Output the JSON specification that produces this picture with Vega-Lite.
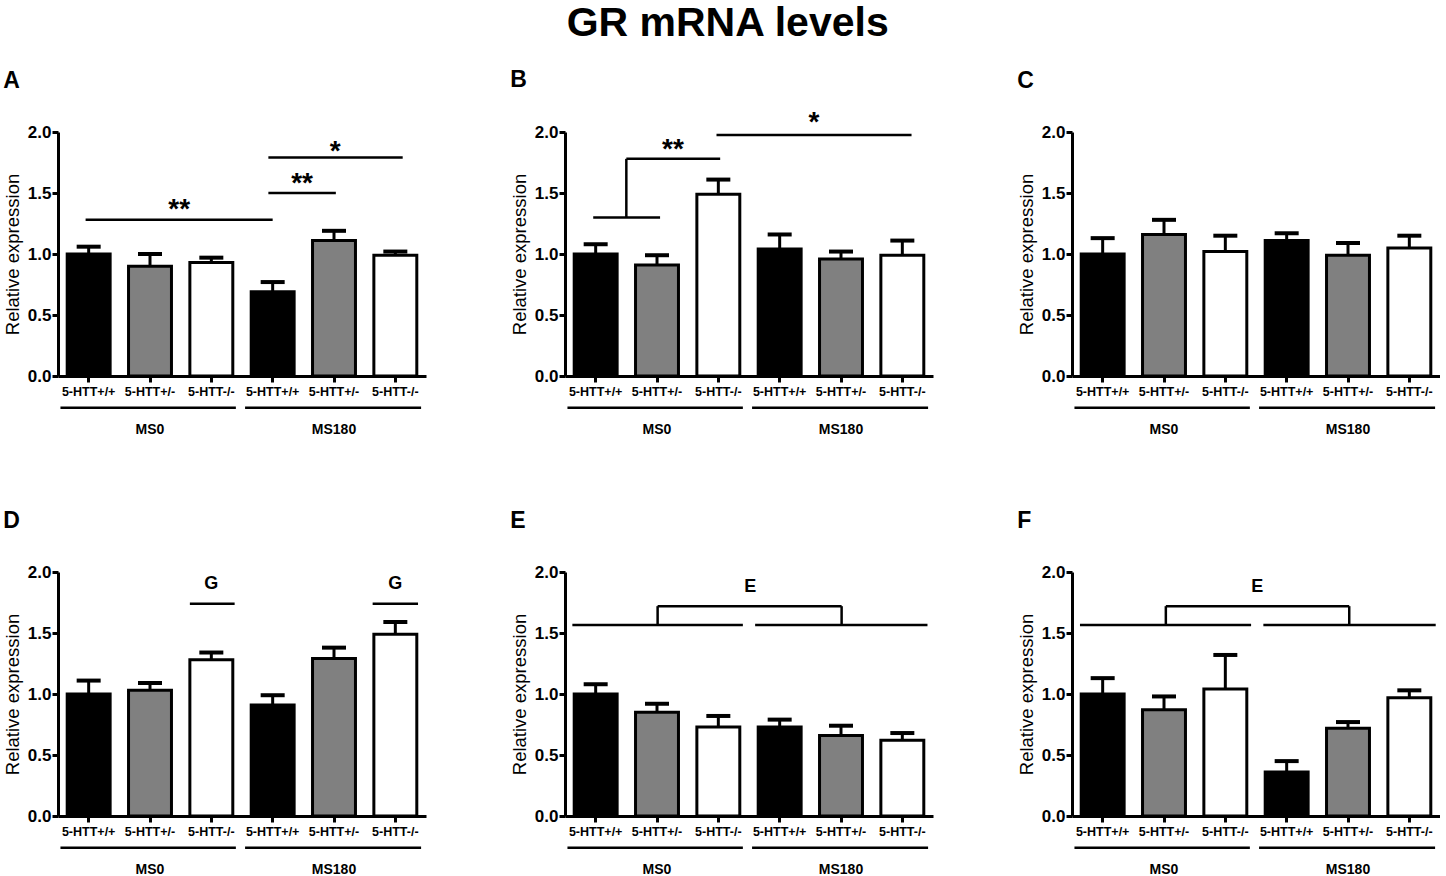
{
  "$schema": "https://vega.github.io/schema/vega-lite/v6.json",
  "background": "white",
  "padding": {"left": 3, "top": 2, "right": 0, "bottom": 0},
  "title": {"text": "GR mRNA levels", "font": "Liberation Sans", "fontSize": 41, "fontWeight": "bold", "color": "black", "anchor": "middle", "offset": 24, "dx": 6},
  "config": {"view": {"stroke": null}},
  "datasets": {
    "bars": [
      {"panel": "A", "key": "MS0|5-HTT+/+", "genotype": "5-HTT+/+", "mean": 1.00, "upper": 1.06},
      {"panel": "A", "key": "MS0|5-HTT+/-", "genotype": "5-HTT+/-", "mean": 0.90, "upper": 1.00},
      {"panel": "A", "key": "MS0|5-HTT-/-", "genotype": "5-HTT-/-", "mean": 0.93, "upper": 0.97},
      {"panel": "A", "key": "MS180|5-HTT+/+", "genotype": "5-HTT+/+", "mean": 0.69, "upper": 0.77},
      {"panel": "A", "key": "MS180|5-HTT+/-", "genotype": "5-HTT+/-", "mean": 1.11, "upper": 1.19},
      {"panel": "A", "key": "MS180|5-HTT-/-", "genotype": "5-HTT-/-", "mean": 0.99, "upper": 1.02},
      {"panel": "B", "key": "MS0|5-HTT+/+", "genotype": "5-HTT+/+", "mean": 1.00, "upper": 1.08},
      {"panel": "B", "key": "MS0|5-HTT+/-", "genotype": "5-HTT+/-", "mean": 0.91, "upper": 0.99},
      {"panel": "B", "key": "MS0|5-HTT-/-", "genotype": "5-HTT-/-", "mean": 1.49, "upper": 1.61},
      {"panel": "B", "key": "MS180|5-HTT+/+", "genotype": "5-HTT+/+", "mean": 1.04, "upper": 1.16},
      {"panel": "B", "key": "MS180|5-HTT+/-", "genotype": "5-HTT+/-", "mean": 0.96, "upper": 1.02},
      {"panel": "B", "key": "MS180|5-HTT-/-", "genotype": "5-HTT-/-", "mean": 0.99, "upper": 1.11},
      {"panel": "C", "key": "MS0|5-HTT+/+", "genotype": "5-HTT+/+", "mean": 1.00, "upper": 1.13},
      {"panel": "C", "key": "MS0|5-HTT+/-", "genotype": "5-HTT+/-", "mean": 1.16, "upper": 1.28},
      {"panel": "C", "key": "MS0|5-HTT-/-", "genotype": "5-HTT-/-", "mean": 1.02, "upper": 1.15},
      {"panel": "C", "key": "MS180|5-HTT+/+", "genotype": "5-HTT+/+", "mean": 1.11, "upper": 1.17},
      {"panel": "C", "key": "MS180|5-HTT+/-", "genotype": "5-HTT+/-", "mean": 0.99, "upper": 1.09},
      {"panel": "C", "key": "MS180|5-HTT-/-", "genotype": "5-HTT-/-", "mean": 1.05, "upper": 1.15},
      {"panel": "D", "key": "MS0|5-HTT+/+", "genotype": "5-HTT+/+", "mean": 1.00, "upper": 1.11},
      {"panel": "D", "key": "MS0|5-HTT+/-", "genotype": "5-HTT+/-", "mean": 1.03, "upper": 1.09},
      {"panel": "D", "key": "MS0|5-HTT-/-", "genotype": "5-HTT-/-", "mean": 1.28, "upper": 1.34},
      {"panel": "D", "key": "MS180|5-HTT+/+", "genotype": "5-HTT+/+", "mean": 0.91, "upper": 0.99},
      {"panel": "D", "key": "MS180|5-HTT+/-", "genotype": "5-HTT+/-", "mean": 1.29, "upper": 1.38},
      {"panel": "D", "key": "MS180|5-HTT-/-", "genotype": "5-HTT-/-", "mean": 1.49, "upper": 1.59},
      {"panel": "E", "key": "MS0|5-HTT+/+", "genotype": "5-HTT+/+", "mean": 1.00, "upper": 1.08},
      {"panel": "E", "key": "MS0|5-HTT+/-", "genotype": "5-HTT+/-", "mean": 0.85, "upper": 0.92},
      {"panel": "E", "key": "MS0|5-HTT-/-", "genotype": "5-HTT-/-", "mean": 0.73, "upper": 0.82},
      {"panel": "E", "key": "MS180|5-HTT+/+", "genotype": "5-HTT+/+", "mean": 0.73, "upper": 0.79},
      {"panel": "E", "key": "MS180|5-HTT+/-", "genotype": "5-HTT+/-", "mean": 0.66, "upper": 0.74},
      {"panel": "E", "key": "MS180|5-HTT-/-", "genotype": "5-HTT-/-", "mean": 0.62, "upper": 0.68},
      {"panel": "F", "key": "MS0|5-HTT+/+", "genotype": "5-HTT+/+", "mean": 1.00, "upper": 1.13},
      {"panel": "F", "key": "MS0|5-HTT+/-", "genotype": "5-HTT+/-", "mean": 0.87, "upper": 0.98},
      {"panel": "F", "key": "MS0|5-HTT-/-", "genotype": "5-HTT-/-", "mean": 1.04, "upper": 1.32},
      {"panel": "F", "key": "MS180|5-HTT+/+", "genotype": "5-HTT+/+", "mean": 0.36, "upper": 0.45},
      {"panel": "F", "key": "MS180|5-HTT+/-", "genotype": "5-HTT+/-", "mean": 0.72, "upper": 0.77},
      {"panel": "F", "key": "MS180|5-HTT-/-", "genotype": "5-HTT-/-", "mean": 0.97, "upper": 1.03}
    ],
    "ann": [
      {"panel": "A", "x1": 0.45, "x2": 3.5, "y1": 1.28, "y2": 1.28},
      {"panel": "A", "x1": 3.43, "x2": 4.53, "y1": 1.50, "y2": 1.50},
      {"panel": "A", "x1": 3.43, "x2": 5.62, "y1": 1.79, "y2": 1.79},
      {"panel": "B", "x1": 0.46, "x2": 1.55, "y1": 1.30, "y2": 1.30},
      {"panel": "B", "x1": 1.0, "x2": 1.0, "y1": 1.30, "y2": 1.78},
      {"panel": "B", "x1": 1.0, "x2": 2.53, "y1": 1.78, "y2": 1.78},
      {"panel": "B", "x1": 2.47, "x2": 5.65, "y1": 1.975, "y2": 1.975},
      {"panel": "D", "x1": 2.15, "x2": 2.88, "y1": 1.74, "y2": 1.74},
      {"panel": "D", "x1": 5.13, "x2": 5.87, "y1": 1.74, "y2": 1.74},
      {"panel": "E", "x1": 0.12, "x2": 2.9, "y1": 1.566, "y2": 1.566},
      {"panel": "E", "x1": 3.1, "x2": 5.91, "y1": 1.566, "y2": 1.566},
      {"panel": "E", "x1": 1.51, "x2": 1.51, "y1": 1.566, "y2": 1.72},
      {"panel": "E", "x1": 1.51, "x2": 4.51, "y1": 1.72, "y2": 1.72},
      {"panel": "E", "x1": 4.51, "x2": 4.51, "y1": 1.72, "y2": 1.566},
      {"panel": "F", "x1": 0.13, "x2": 2.92, "y1": 1.566, "y2": 1.566},
      {"panel": "F", "x1": 3.12, "x2": 5.93, "y1": 1.566, "y2": 1.566},
      {"panel": "F", "x1": 1.53, "x2": 1.53, "y1": 1.566, "y2": 1.72},
      {"panel": "F", "x1": 1.53, "x2": 4.52, "y1": 1.72, "y2": 1.72},
      {"panel": "F", "x1": 4.52, "x2": 4.52, "y1": 1.72, "y2": 1.566}
    ],
    "txt": [
      {"panel": "A", "kind": "star", "x": 1.975, "y": 1.36, "label": "**"},
      {"panel": "A", "kind": "star", "x": 3.98, "y": 1.57, "label": "**"},
      {"panel": "A", "kind": "star", "x": 4.52, "y": 1.84, "label": "*"},
      {"panel": "B", "kind": "star", "x": 1.76, "y": 1.85, "label": "**"},
      {"panel": "B", "kind": "star", "x": 4.06, "y": 2.07, "label": "*"},
      {"panel": "D", "kind": "letter", "x": 2.5, "y": 1.90, "label": "G"},
      {"panel": "D", "kind": "letter", "x": 5.5, "y": 1.90, "label": "G"},
      {"panel": "E", "kind": "letter", "x": 3.02, "y": 1.88, "label": "E"},
      {"panel": "F", "kind": "letter", "x": 3.02, "y": 1.88, "label": "E"}
    ],
    "grp": [
      {"group": "MS0", "x1": 0.04, "x2": 2.9, "mid": 1.5},
      {"group": "MS180", "x1": 3.05, "x2": 5.92, "mid": 4.5}
    ]
  },
  "columns": 3,
  "spacing": {"row": 196, "column": 139},
  "bounds": "flush",
  "concat": [
    {
      "title": {"text": "A", "anchor": "start", "frame": "bounds", "font": "Liberation Sans", "fontSize": 23, "fontWeight": "bold", "color": "black", "offset": 30},
      "width": 368, "height": 244,
      "resolve": {"scale": {"x": "independent"}},
      "layer": [
        {"data": {"name": "bars"}, "transform": [{"filter": "datum.panel === 'A'"}],
         "encoding": {"x": {"field": "key", "type": "nominal", "sort": null, "scale": {"type": "band", "paddingInner": 0.3, "paddingOuter": 0.15},
           "axis": {"title": null, "labelExpr": "split(datum.label, '|')[1]", "labelAngle": 0, "labelFont": "Liberation Sans", "labelFontSize": 12.5, "labelFontWeight": "bold", "labelColor": "black", "labelPadding": 3, "tickSize": 6, "tickWidth": 3, "tickColor": "black", "domainColor": "black", "domainWidth": 3}}},
         "layer": [
           {"mark": {"type": "bar", "stroke": "black", "strokeWidth": 3, "opacity": 1},
            "encoding": {"y": {"field": "mean", "type": "quantitative", "scale": {"domain": [0, 2]},
              "axis": {"title": "Relative expression", "titleFont": "Liberation Sans", "titleFontSize": 18.5, "titleFontWeight": "normal", "titleColor": "black", "titlePadding": 5, "values": [0, 0.5, 1, 1.5, 2], "format": ".1f", "labelFont": "Liberation Sans", "labelFontSize": 17, "labelFontWeight": "bold", "labelColor": "black", "labelPadding": 1, "tickSize": 6, "tickWidth": 3, "tickColor": "black", "domainColor": "black", "domainWidth": 3, "grid": false}},
              "fill": {"field": "genotype", "type": "nominal", "scale": {"domain": ["5-HTT+/+", "5-HTT+/-", "5-HTT-/-"], "range": ["#000000", "#808080", "#ffffff"]}, "legend": null}}},
           {"mark": {"type": "rule", "color": "black", "strokeWidth": 3, "opacity": 1},
            "encoding": {"y": {"field": "mean", "type": "quantitative"}, "y2": {"field": "upper"}}},
           {"mark": {"type": "tick", "color": "black", "thickness": 4, "size": 24, "opacity": 1},
            "encoding": {"y": {"field": "upper", "type": "quantitative"}}}
         ]},
        {"layer": [
          {"data": {"name": "ann"}, "transform": [{"filter": "datum.panel === 'A'"}],
           "mark": {"type": "rule", "color": "black", "strokeWidth": 2.5},
           "encoding": {"x": {"field": "x1", "type": "quantitative", "scale": {"domain": [0, 6], "nice": false, "zero": false}, "axis": null}, "x2": {"field": "x2"}, "y": {"field": "y1", "type": "quantitative"}, "y2": {"field": "y2"}}},
          {"data": {"name": "txt"}, "transform": [{"filter": "datum.panel === 'A' && datum.kind === 'star'"}],
           "mark": {"type": "text", "font": "Liberation Sans", "fontSize": 28, "fontWeight": "bold", "color": "black", "baseline": "middle", "align": "center"},
           "encoding": {"x": {"field": "x", "type": "quantitative"}, "y": {"field": "y", "type": "quantitative"}, "text": {"field": "label"}}},
          {"data": {"name": "txt"}, "transform": [{"filter": "datum.panel === 'A' && datum.kind === 'letter'"}],
           "mark": {"type": "text", "font": "Liberation Sans", "fontSize": 18, "fontWeight": "bold", "color": "black", "baseline": "middle", "align": "center"},
           "encoding": {"x": {"field": "x", "type": "quantitative"}, "y": {"field": "y", "type": "quantitative"}, "text": {"field": "label"}}},
          {"data": {"name": "grp"},
           "mark": {"type": "rule", "color": "black", "strokeWidth": 2.5},
           "encoding": {"x": {"field": "x1", "type": "quantitative"}, "x2": {"field": "x2"}, "y": {"datum": -0.26, "type": "quantitative"}}},
          {"data": {"name": "grp"},
           "mark": {"type": "text", "font": "Liberation Sans", "fontSize": 14, "fontWeight": "bold", "color": "black", "baseline": "middle", "align": "center"},
           "encoding": {"x": {"field": "mid", "type": "quantitative"}, "y": {"datum": -0.44, "type": "quantitative"}, "text": {"field": "group"}}}
        ]}
      ]
    },
    {
      "title": {"text": "B", "anchor": "start", "frame": "bounds", "font": "Liberation Sans", "fontSize": 23, "fontWeight": "bold", "color": "black", "offset": 17.5},
      "width": 368, "height": 244,
      "resolve": {"scale": {"x": "independent"}},
      "layer": [
        {"data": {"name": "bars"}, "transform": [{"filter": "datum.panel === 'B'"}],
         "encoding": {"x": {"field": "key", "type": "nominal", "sort": null, "scale": {"type": "band", "paddingInner": 0.3, "paddingOuter": 0.15},
           "axis": {"title": null, "labelExpr": "split(datum.label, '|')[1]", "labelAngle": 0, "labelFont": "Liberation Sans", "labelFontSize": 12.5, "labelFontWeight": "bold", "labelColor": "black", "labelPadding": 3, "tickSize": 6, "tickWidth": 3, "tickColor": "black", "domainColor": "black", "domainWidth": 3}}},
         "layer": [
           {"mark": {"type": "bar", "stroke": "black", "strokeWidth": 3, "opacity": 1},
            "encoding": {"y": {"field": "mean", "type": "quantitative", "scale": {"domain": [0, 2]},
              "axis": {"title": "Relative expression", "titleFont": "Liberation Sans", "titleFontSize": 18.5, "titleFontWeight": "normal", "titleColor": "black", "titlePadding": 5, "values": [0, 0.5, 1, 1.5, 2], "format": ".1f", "labelFont": "Liberation Sans", "labelFontSize": 17, "labelFontWeight": "bold", "labelColor": "black", "labelPadding": 1, "tickSize": 6, "tickWidth": 3, "tickColor": "black", "domainColor": "black", "domainWidth": 3, "grid": false}},
              "fill": {"field": "genotype", "type": "nominal", "scale": {"domain": ["5-HTT+/+", "5-HTT+/-", "5-HTT-/-"], "range": ["#000000", "#808080", "#ffffff"]}, "legend": null}}},
           {"mark": {"type": "rule", "color": "black", "strokeWidth": 3, "opacity": 1},
            "encoding": {"y": {"field": "mean", "type": "quantitative"}, "y2": {"field": "upper"}}},
           {"mark": {"type": "tick", "color": "black", "thickness": 4, "size": 24, "opacity": 1},
            "encoding": {"y": {"field": "upper", "type": "quantitative"}}}
         ]},
        {"layer": [
          {"data": {"name": "ann"}, "transform": [{"filter": "datum.panel === 'B'"}],
           "mark": {"type": "rule", "color": "black", "strokeWidth": 2.5},
           "encoding": {"x": {"field": "x1", "type": "quantitative", "scale": {"domain": [0, 6], "nice": false, "zero": false}, "axis": null}, "x2": {"field": "x2"}, "y": {"field": "y1", "type": "quantitative"}, "y2": {"field": "y2"}}},
          {"data": {"name": "txt"}, "transform": [{"filter": "datum.panel === 'B' && datum.kind === 'star'"}],
           "mark": {"type": "text", "font": "Liberation Sans", "fontSize": 28, "fontWeight": "bold", "color": "black", "baseline": "middle", "align": "center"},
           "encoding": {"x": {"field": "x", "type": "quantitative"}, "y": {"field": "y", "type": "quantitative"}, "text": {"field": "label"}}},
          {"data": {"name": "txt"}, "transform": [{"filter": "datum.panel === 'B' && datum.kind === 'letter'"}],
           "mark": {"type": "text", "font": "Liberation Sans", "fontSize": 18, "fontWeight": "bold", "color": "black", "baseline": "middle", "align": "center"},
           "encoding": {"x": {"field": "x", "type": "quantitative"}, "y": {"field": "y", "type": "quantitative"}, "text": {"field": "label"}}},
          {"data": {"name": "grp"},
           "mark": {"type": "rule", "color": "black", "strokeWidth": 2.5},
           "encoding": {"x": {"field": "x1", "type": "quantitative"}, "x2": {"field": "x2"}, "y": {"datum": -0.26, "type": "quantitative"}}},
          {"data": {"name": "grp"},
           "mark": {"type": "text", "font": "Liberation Sans", "fontSize": 14, "fontWeight": "bold", "color": "black", "baseline": "middle", "align": "center"},
           "encoding": {"x": {"field": "mid", "type": "quantitative"}, "y": {"datum": -0.44, "type": "quantitative"}, "text": {"field": "group"}}}
        ]}
      ]
    },
    {
      "title": {"text": "C", "anchor": "start", "frame": "bounds", "font": "Liberation Sans", "fontSize": 23, "fontWeight": "bold", "color": "black", "offset": 30},
      "width": 368, "height": 244,
      "resolve": {"scale": {"x": "independent"}},
      "layer": [
        {"data": {"name": "bars"}, "transform": [{"filter": "datum.panel === 'C'"}],
         "encoding": {"x": {"field": "key", "type": "nominal", "sort": null, "scale": {"type": "band", "paddingInner": 0.3, "paddingOuter": 0.15},
           "axis": {"title": null, "labelExpr": "split(datum.label, '|')[1]", "labelAngle": 0, "labelFont": "Liberation Sans", "labelFontSize": 12.5, "labelFontWeight": "bold", "labelColor": "black", "labelPadding": 3, "tickSize": 6, "tickWidth": 3, "tickColor": "black", "domainColor": "black", "domainWidth": 3}}},
         "layer": [
           {"mark": {"type": "bar", "stroke": "black", "strokeWidth": 3, "opacity": 1},
            "encoding": {"y": {"field": "mean", "type": "quantitative", "scale": {"domain": [0, 2]},
              "axis": {"title": "Relative expression", "titleFont": "Liberation Sans", "titleFontSize": 18.5, "titleFontWeight": "normal", "titleColor": "black", "titlePadding": 5, "values": [0, 0.5, 1, 1.5, 2], "format": ".1f", "labelFont": "Liberation Sans", "labelFontSize": 17, "labelFontWeight": "bold", "labelColor": "black", "labelPadding": 1, "tickSize": 6, "tickWidth": 3, "tickColor": "black", "domainColor": "black", "domainWidth": 3, "grid": false}},
              "fill": {"field": "genotype", "type": "nominal", "scale": {"domain": ["5-HTT+/+", "5-HTT+/-", "5-HTT-/-"], "range": ["#000000", "#808080", "#ffffff"]}, "legend": null}}},
           {"mark": {"type": "rule", "color": "black", "strokeWidth": 3, "opacity": 1},
            "encoding": {"y": {"field": "mean", "type": "quantitative"}, "y2": {"field": "upper"}}},
           {"mark": {"type": "tick", "color": "black", "thickness": 4, "size": 24, "opacity": 1},
            "encoding": {"y": {"field": "upper", "type": "quantitative"}}}
         ]},
        {"layer": [
          {"data": {"name": "ann"}, "transform": [{"filter": "datum.panel === 'C'"}],
           "mark": {"type": "rule", "color": "black", "strokeWidth": 2.5},
           "encoding": {"x": {"field": "x1", "type": "quantitative", "scale": {"domain": [0, 6], "nice": false, "zero": false}, "axis": null}, "x2": {"field": "x2"}, "y": {"field": "y1", "type": "quantitative"}, "y2": {"field": "y2"}}},
          {"data": {"name": "grp"},
           "mark": {"type": "rule", "color": "black", "strokeWidth": 2.5},
           "encoding": {"x": {"field": "x1", "type": "quantitative"}, "x2": {"field": "x2"}, "y": {"datum": -0.26, "type": "quantitative"}}},
          {"data": {"name": "grp"},
           "mark": {"type": "text", "font": "Liberation Sans", "fontSize": 14, "fontWeight": "bold", "color": "black", "baseline": "middle", "align": "center"},
           "encoding": {"x": {"field": "mid", "type": "quantitative"}, "y": {"datum": -0.44, "type": "quantitative"}, "text": {"field": "group"}}}
        ]}
      ]
    },
    {
      "title": {"text": "D", "anchor": "start", "frame": "bounds", "font": "Liberation Sans", "fontSize": 23, "fontWeight": "bold", "color": "black", "offset": 30},
      "width": 368, "height": 244,
      "resolve": {"scale": {"x": "independent"}},
      "layer": [
        {"data": {"name": "bars"}, "transform": [{"filter": "datum.panel === 'D'"}],
         "encoding": {"x": {"field": "key", "type": "nominal", "sort": null, "scale": {"type": "band", "paddingInner": 0.3, "paddingOuter": 0.15},
           "axis": {"title": null, "labelExpr": "split(datum.label, '|')[1]", "labelAngle": 0, "labelFont": "Liberation Sans", "labelFontSize": 12.5, "labelFontWeight": "bold", "labelColor": "black", "labelPadding": 3, "tickSize": 6, "tickWidth": 3, "tickColor": "black", "domainColor": "black", "domainWidth": 3}}},
         "layer": [
           {"mark": {"type": "bar", "stroke": "black", "strokeWidth": 3, "opacity": 1},
            "encoding": {"y": {"field": "mean", "type": "quantitative", "scale": {"domain": [0, 2]},
              "axis": {"title": "Relative expression", "titleFont": "Liberation Sans", "titleFontSize": 18.5, "titleFontWeight": "normal", "titleColor": "black", "titlePadding": 5, "values": [0, 0.5, 1, 1.5, 2], "format": ".1f", "labelFont": "Liberation Sans", "labelFontSize": 17, "labelFontWeight": "bold", "labelColor": "black", "labelPadding": 1, "tickSize": 6, "tickWidth": 3, "tickColor": "black", "domainColor": "black", "domainWidth": 3, "grid": false}},
              "fill": {"field": "genotype", "type": "nominal", "scale": {"domain": ["5-HTT+/+", "5-HTT+/-", "5-HTT-/-"], "range": ["#000000", "#808080", "#ffffff"]}, "legend": null}}},
           {"mark": {"type": "rule", "color": "black", "strokeWidth": 3, "opacity": 1},
            "encoding": {"y": {"field": "mean", "type": "quantitative"}, "y2": {"field": "upper"}}},
           {"mark": {"type": "tick", "color": "black", "thickness": 4, "size": 24, "opacity": 1},
            "encoding": {"y": {"field": "upper", "type": "quantitative"}}}
         ]},
        {"layer": [
          {"data": {"name": "ann"}, "transform": [{"filter": "datum.panel === 'D'"}],
           "mark": {"type": "rule", "color": "black", "strokeWidth": 2.5},
           "encoding": {"x": {"field": "x1", "type": "quantitative", "scale": {"domain": [0, 6], "nice": false, "zero": false}, "axis": null}, "x2": {"field": "x2"}, "y": {"field": "y1", "type": "quantitative"}, "y2": {"field": "y2"}}},
          {"data": {"name": "txt"}, "transform": [{"filter": "datum.panel === 'D' && datum.kind === 'letter'"}],
           "mark": {"type": "text", "font": "Liberation Sans", "fontSize": 18, "fontWeight": "bold", "color": "black", "baseline": "middle", "align": "center"},
           "encoding": {"x": {"field": "x", "type": "quantitative"}, "y": {"field": "y", "type": "quantitative"}, "text": {"field": "label"}}},
          {"data": {"name": "grp"},
           "mark": {"type": "rule", "color": "black", "strokeWidth": 2.5},
           "encoding": {"x": {"field": "x1", "type": "quantitative"}, "x2": {"field": "x2"}, "y": {"datum": -0.26, "type": "quantitative"}}},
          {"data": {"name": "grp"},
           "mark": {"type": "text", "font": "Liberation Sans", "fontSize": 14, "fontWeight": "bold", "color": "black", "baseline": "middle", "align": "center"},
           "encoding": {"x": {"field": "mid", "type": "quantitative"}, "y": {"datum": -0.44, "type": "quantitative"}, "text": {"field": "group"}}}
        ]}
      ]
    },
    {
      "title": {"text": "E", "anchor": "start", "frame": "bounds", "font": "Liberation Sans", "fontSize": 23, "fontWeight": "bold", "color": "black", "offset": 30},
      "width": 368, "height": 244,
      "resolve": {"scale": {"x": "independent"}},
      "layer": [
        {"data": {"name": "bars"}, "transform": [{"filter": "datum.panel === 'E'"}],
         "encoding": {"x": {"field": "key", "type": "nominal", "sort": null, "scale": {"type": "band", "paddingInner": 0.3, "paddingOuter": 0.15},
           "axis": {"title": null, "labelExpr": "split(datum.label, '|')[1]", "labelAngle": 0, "labelFont": "Liberation Sans", "labelFontSize": 12.5, "labelFontWeight": "bold", "labelColor": "black", "labelPadding": 3, "tickSize": 6, "tickWidth": 3, "tickColor": "black", "domainColor": "black", "domainWidth": 3}}},
         "layer": [
           {"mark": {"type": "bar", "stroke": "black", "strokeWidth": 3, "opacity": 1},
            "encoding": {"y": {"field": "mean", "type": "quantitative", "scale": {"domain": [0, 2]},
              "axis": {"title": "Relative expression", "titleFont": "Liberation Sans", "titleFontSize": 18.5, "titleFontWeight": "normal", "titleColor": "black", "titlePadding": 5, "values": [0, 0.5, 1, 1.5, 2], "format": ".1f", "labelFont": "Liberation Sans", "labelFontSize": 17, "labelFontWeight": "bold", "labelColor": "black", "labelPadding": 1, "tickSize": 6, "tickWidth": 3, "tickColor": "black", "domainColor": "black", "domainWidth": 3, "grid": false}},
              "fill": {"field": "genotype", "type": "nominal", "scale": {"domain": ["5-HTT+/+", "5-HTT+/-", "5-HTT-/-"], "range": ["#000000", "#808080", "#ffffff"]}, "legend": null}}},
           {"mark": {"type": "rule", "color": "black", "strokeWidth": 3, "opacity": 1},
            "encoding": {"y": {"field": "mean", "type": "quantitative"}, "y2": {"field": "upper"}}},
           {"mark": {"type": "tick", "color": "black", "thickness": 4, "size": 24, "opacity": 1},
            "encoding": {"y": {"field": "upper", "type": "quantitative"}}}
         ]},
        {"layer": [
          {"data": {"name": "ann"}, "transform": [{"filter": "datum.panel === 'E'"}],
           "mark": {"type": "rule", "color": "black", "strokeWidth": 2.5},
           "encoding": {"x": {"field": "x1", "type": "quantitative", "scale": {"domain": [0, 6], "nice": false, "zero": false}, "axis": null}, "x2": {"field": "x2"}, "y": {"field": "y1", "type": "quantitative"}, "y2": {"field": "y2"}}},
          {"data": {"name": "txt"}, "transform": [{"filter": "datum.panel === 'E' && datum.kind === 'letter'"}],
           "mark": {"type": "text", "font": "Liberation Sans", "fontSize": 18, "fontWeight": "bold", "color": "black", "baseline": "middle", "align": "center"},
           "encoding": {"x": {"field": "x", "type": "quantitative"}, "y": {"field": "y", "type": "quantitative"}, "text": {"field": "label"}}},
          {"data": {"name": "grp"},
           "mark": {"type": "rule", "color": "black", "strokeWidth": 2.5},
           "encoding": {"x": {"field": "x1", "type": "quantitative"}, "x2": {"field": "x2"}, "y": {"datum": -0.26, "type": "quantitative"}}},
          {"data": {"name": "grp"},
           "mark": {"type": "text", "font": "Liberation Sans", "fontSize": 14, "fontWeight": "bold", "color": "black", "baseline": "middle", "align": "center"},
           "encoding": {"x": {"field": "mid", "type": "quantitative"}, "y": {"datum": -0.44, "type": "quantitative"}, "text": {"field": "group"}}}
        ]}
      ]
    },
    {
      "title": {"text": "F", "anchor": "start", "frame": "bounds", "font": "Liberation Sans", "fontSize": 23, "fontWeight": "bold", "color": "black", "offset": 30},
      "width": 368, "height": 244,
      "resolve": {"scale": {"x": "independent"}},
      "layer": [
        {"data": {"name": "bars"}, "transform": [{"filter": "datum.panel === 'F'"}],
         "encoding": {"x": {"field": "key", "type": "nominal", "sort": null, "scale": {"type": "band", "paddingInner": 0.3, "paddingOuter": 0.15},
           "axis": {"title": null, "labelExpr": "split(datum.label, '|')[1]", "labelAngle": 0, "labelFont": "Liberation Sans", "labelFontSize": 12.5, "labelFontWeight": "bold", "labelColor": "black", "labelPadding": 3, "tickSize": 6, "tickWidth": 3, "tickColor": "black", "domainColor": "black", "domainWidth": 3}}},
         "layer": [
           {"mark": {"type": "bar", "stroke": "black", "strokeWidth": 3, "opacity": 1},
            "encoding": {"y": {"field": "mean", "type": "quantitative", "scale": {"domain": [0, 2]},
              "axis": {"title": "Relative expression", "titleFont": "Liberation Sans", "titleFontSize": 18.5, "titleFontWeight": "normal", "titleColor": "black", "titlePadding": 5, "values": [0, 0.5, 1, 1.5, 2], "format": ".1f", "labelFont": "Liberation Sans", "labelFontSize": 17, "labelFontWeight": "bold", "labelColor": "black", "labelPadding": 1, "tickSize": 6, "tickWidth": 3, "tickColor": "black", "domainColor": "black", "domainWidth": 3, "grid": false}},
              "fill": {"field": "genotype", "type": "nominal", "scale": {"domain": ["5-HTT+/+", "5-HTT+/-", "5-HTT-/-"], "range": ["#000000", "#808080", "#ffffff"]}, "legend": null}}},
           {"mark": {"type": "rule", "color": "black", "strokeWidth": 3, "opacity": 1},
            "encoding": {"y": {"field": "mean", "type": "quantitative"}, "y2": {"field": "upper"}}},
           {"mark": {"type": "tick", "color": "black", "thickness": 4, "size": 24, "opacity": 1},
            "encoding": {"y": {"field": "upper", "type": "quantitative"}}}
         ]},
        {"layer": [
          {"data": {"name": "ann"}, "transform": [{"filter": "datum.panel === 'F'"}],
           "mark": {"type": "rule", "color": "black", "strokeWidth": 2.5},
           "encoding": {"x": {"field": "x1", "type": "quantitative", "scale": {"domain": [0, 6], "nice": false, "zero": false}, "axis": null}, "x2": {"field": "x2"}, "y": {"field": "y1", "type": "quantitative"}, "y2": {"field": "y2"}}},
          {"data": {"name": "txt"}, "transform": [{"filter": "datum.panel === 'F' && datum.kind === 'letter'"}],
           "mark": {"type": "text", "font": "Liberation Sans", "fontSize": 18, "fontWeight": "bold", "color": "black", "baseline": "middle", "align": "center"},
           "encoding": {"x": {"field": "x", "type": "quantitative"}, "y": {"field": "y", "type": "quantitative"}, "text": {"field": "label"}}},
          {"data": {"name": "grp"},
           "mark": {"type": "rule", "color": "black", "strokeWidth": 2.5},
           "encoding": {"x": {"field": "x1", "type": "quantitative"}, "x2": {"field": "x2"}, "y": {"datum": -0.26, "type": "quantitative"}}},
          {"data": {"name": "grp"},
           "mark": {"type": "text", "font": "Liberation Sans", "fontSize": 14, "fontWeight": "bold", "color": "black", "baseline": "middle", "align": "center"},
           "encoding": {"x": {"field": "mid", "type": "quantitative"}, "y": {"datum": -0.44, "type": "quantitative"}, "text": {"field": "group"}}}
        ]}
      ]
    }
  ]
}
